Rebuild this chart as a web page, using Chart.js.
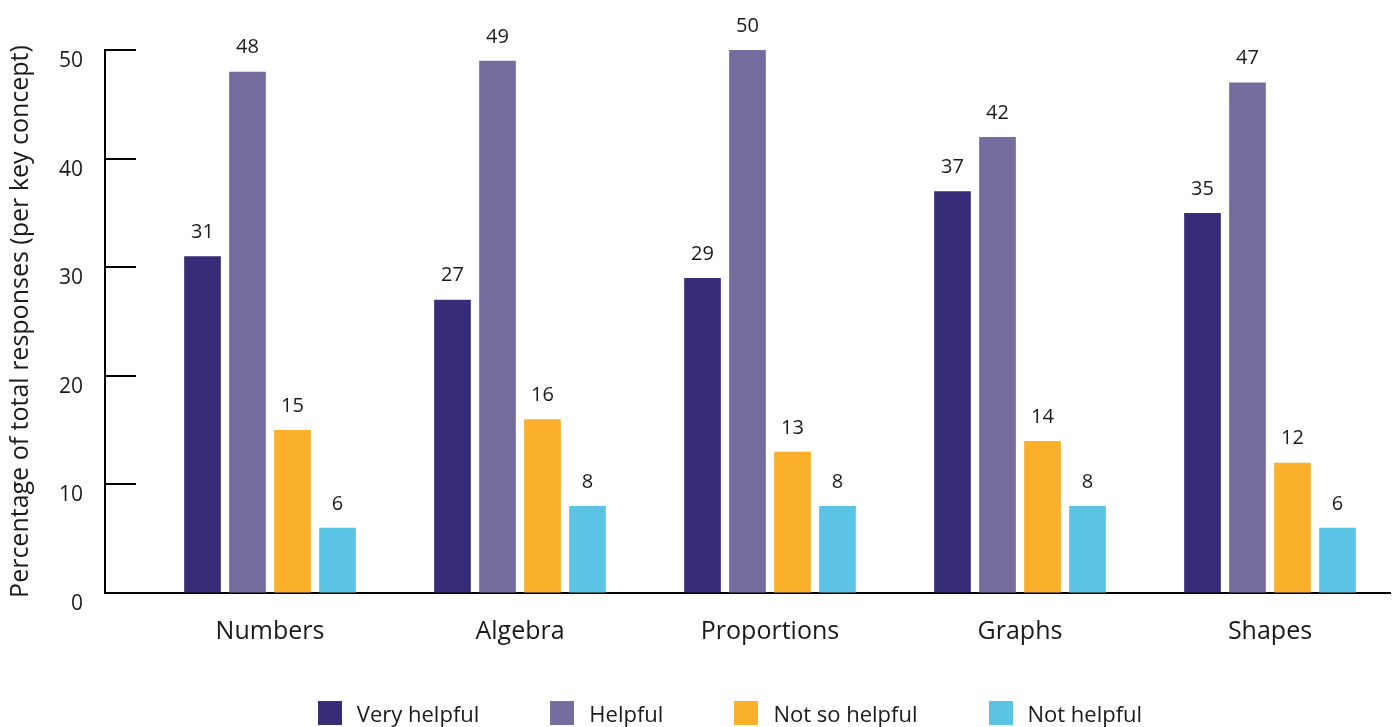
<!DOCTYPE html>
<html lang="en">
<head>
  <meta charset="UTF-8" />
  <title>Helpfulness per key concept</title>
  <script src="https://cdn.jsdelivr.net/npm/chart.js"></script>
  <style>
    body {
      margin: 0;
      background: #ffffff;
      font-family: 'Open Sans', sans-serif;
    }

    .wrap {
      position: relative;
      width: 1399px;
      height: 727px;
    }

    #legend {
      position: absolute;
      top: 701px;
      left: 0;
      width: 1399px;
      box-sizing: border-box;
      padding-left: 61px;
      display: flex;
      justify-content: center;
      gap: 71px;
    }

    .item {
      display: flex;
      align-items: center;
      gap: 15px;
      font-size: 22px;
      color: #1a1a1a;
      height: 24px;
    }

    .swatch {
      width: 24px;
      height: 24px;
    }
  </style>
</head>
<body>

  <div class="wrap">
    <canvas id="chart" width="1399" height="727"></canvas>
    <div id="legend"></div>
  </div>

  <script>
    const categories = ['Numbers', 'Algebra', 'Proportions', 'Graphs', 'Shapes'];
    const seriesNames = ['Very helpful', 'Helpful', 'Not so helpful', 'Not helpful'];
    const veryHelpful = [31, 27, 29, 37, 35];
    const helpful = [48, 49, 50, 42, 47];
    const notSoHelpful = [15, 16, 13, 14, 12];
    const notHelpful = [6, 8, 8, 8, 6];
    const yTicks = [0, 10, 20, 30, 40, 50];
    const colors = ['#372c77', '#766c9d', '#fbb02c', '#5bc4e4'];

    const allSeries = [veryHelpful, helpful, notSoHelpful, notHelpful];
    const textColor = '#1a1a1a';

    // value labels above every bar
    const valueLabels = {
      id: 'valueLabels',
      afterDatasetsDraw(chart) {
        const ctx = chart.ctx;
        ctx.save();
        ctx.font = '20px "Open Sans"';
        ctx.fillStyle = textColor;
        ctx.textAlign = 'center';
        ctx.textBaseline = 'middle';
        chart.data.datasets.forEach((ds, i) => {
          chart.getDatasetMeta(i).data.forEach((bar, j) => {
            ctx.fillText(allSeries[i][j], bar.x, bar.y - 24);
          });
        });
        ctx.restore();
      }
    };

    // small tick marks pointing into the plot
    const innerTicks = {
      id: 'innerTicks',
      afterDraw(chart) {
        const ctx = chart.ctx;
        const y = chart.scales.y;
        const left = chart.chartArea.left;
        ctx.save();
        ctx.strokeStyle = '#000';
        ctx.lineWidth = 2;
        y.ticks.forEach(t => {
          const py = Math.round(y.getPixelForValue(t.value));
          ctx.beginPath();
          ctx.moveTo(left - 1, py);
          ctx.lineTo(left + 31, py);
          ctx.stroke();
        });
        ctx.restore();
      }
    };

    const datasets = seriesNames.map((name, i) => ({
      label: name,
      data: allSeries[i].map((v, j) => ({ x: j, y: v })),
      backgroundColor: colors[i],
      categoryPercentage: 0.72,
      barPercentage: 0.815
    }));

    new Chart(document.getElementById('chart'), {
      type: 'bar',
      data: { datasets },
      options: {
        responsive: false,
        animation: false,
        layout: { padding: { top: 50, right: 9, left: 0, bottom: 0 } },
        plugins: {
          legend: { display: false },
          tooltip: { enabled: false }
        },
        scales: {
          x: {
            type: 'linear',
            offset: false,
            min: -0.66,
            max: 4.48,
            afterBuildTicks: s => { s.ticks = categories.map((c, i) => ({ value: i })); },
            afterFit: s => { s.height = 134; },
            grid: { display: false, drawTicks: false },
            border: { color: '#000', width: 2 },
            ticks: {
              padding: 24,
              color: textColor,
              font: { family: 'Open Sans', size: 25 },
              callback: v => categories[v]
            }
          },
          y: {
            min: 0,
            max: 50,
            afterBuildTicks: s => { s.ticks = yTicks.map(v => ({ value: v })); },
            afterFit: s => { s.width = 105; },
            grid: { drawOnChartArea: false, drawTicks: false },
            border: { color: '#000', width: 2 },
            ticks: {
              padding: 22,
              labelOffset: 11,
              color: textColor,
              font: { family: 'Open Sans', size: 21 }
            },
            title: {
              display: true,
              text: 'Percentage of total responses (per key concept)',
              color: textColor,
              font: { family: 'Open Sans', size: 25 },
              padding: { top: 6, bottom: 0 }
            }
          }
        }
      },
      plugins: [valueLabels, innerTicks]
    });

    const legendEl = document.getElementById('legend');
    seriesNames.forEach((name, i) => {
      const item = document.createElement('div');
      item.className = 'item';
      const sw = document.createElement('span');
      sw.className = 'swatch';
      sw.style.background = colors[i];
      const label = document.createElement('span');
      label.textContent = name;
      item.appendChild(sw);
      item.appendChild(label);
      legendEl.appendChild(item);
    });
  </script>

</body>
</html>
